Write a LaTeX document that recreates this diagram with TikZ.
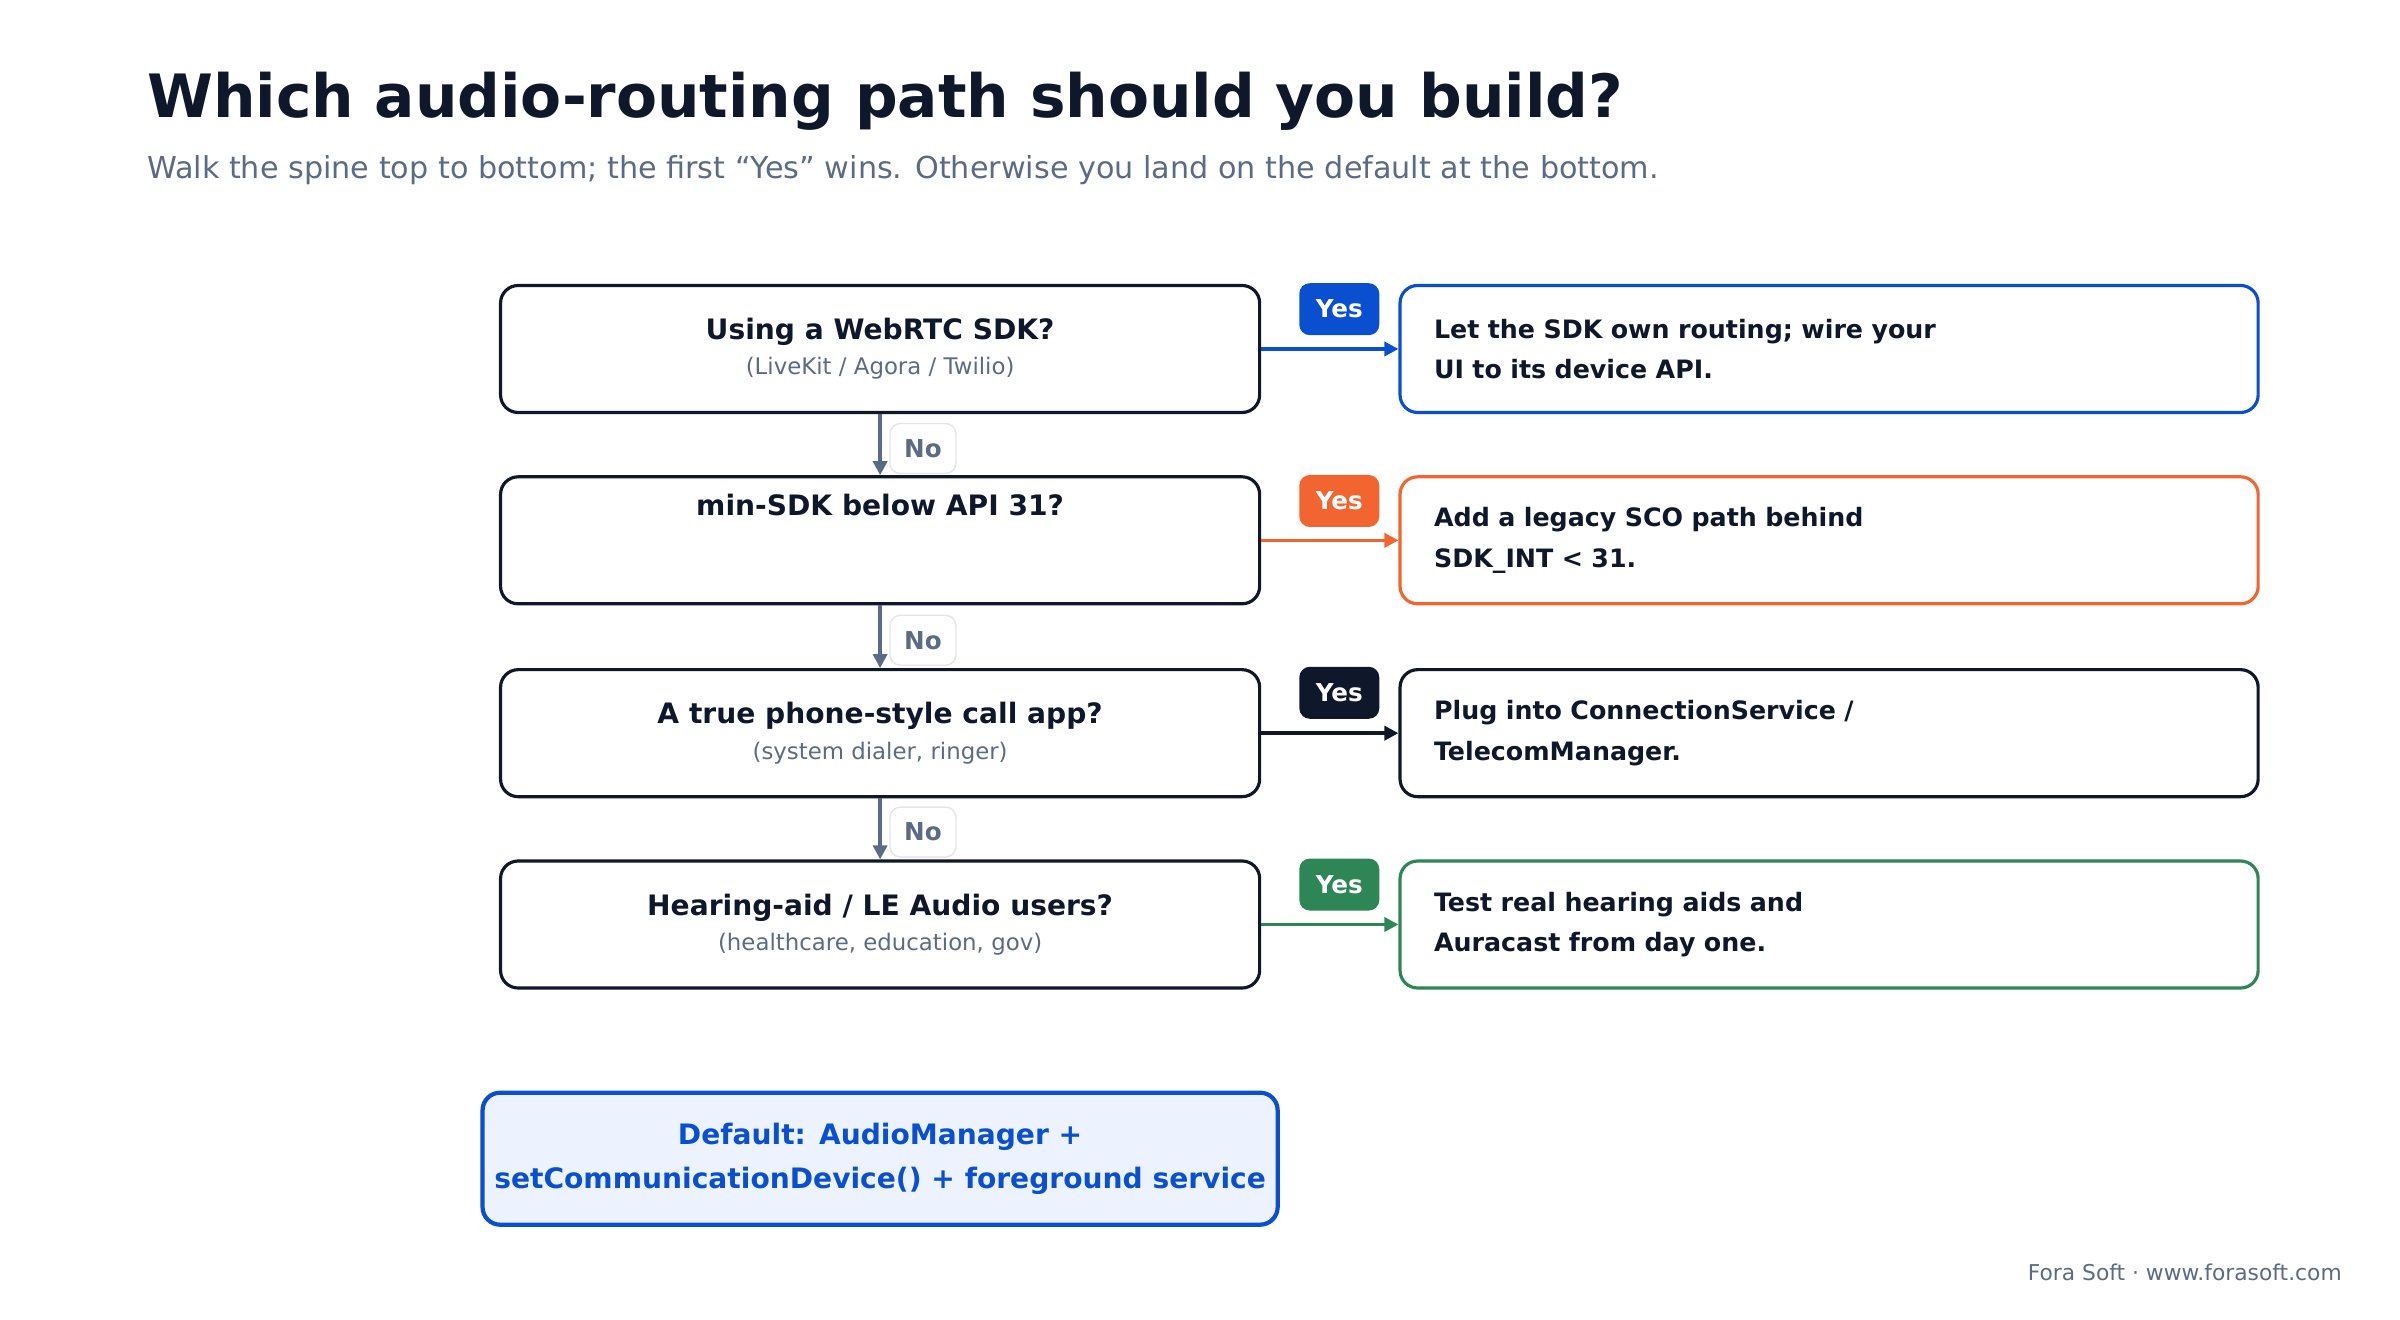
\documentclass[tikz,border=0pt]{standalone}
\usepackage{fontspec}
\setmainfont{DejaVu Sans}
\usetikzlibrary{arrows.meta}
\definecolor{ink}{HTML}{0F172A}
\definecolor{muted}{HTML}{5B6B86}
\definecolor{cblue}{HTML}{0B4FD1}
\definecolor{corange}{HTML}{F26430}
\definecolor{cgreen}{HTML}{2E8555}
\definecolor{lblue}{HTML}{EDF3FE}
\newcommand\subline[1]{{\fontsize{6.5}{8}\selectfont\mdseries\color{muted}#1}}
\begin{document}
\begin{tikzpicture}[x=0.0153cm,y=-0.0153cm,
    question/.style={draw=ink,line width=0.9pt,rounded corners=5pt,minimum width=7.59cm,
      minimum height=1.27cm,align=center,font=\fontsize{8}{11}\selectfont\bfseries,text=ink},
    answer/.style={draw=#1,line width=0.9pt,rounded corners=5pt,fill=white,minimum width=8.58cm,
      minimum height=1.27cm,text width=7.9cm,align=left,
      font=\fontsize{7.2}{11.5}\selectfont\bfseries,text=ink},
    yes/.style={fill=#1,rounded corners=3pt,minimum width=0.8cm,minimum height=0.52cm,
      inner sep=0pt,text=white,font=\fontsize{7}{8}\selectfont\bfseries},
    no/.style={draw=gray!20,fill=white,rounded corners=3pt,minimum width=0.66cm,
      minimum height=0.5cm,inner sep=0pt,text=muted,font=\fontsize{7}{8}\selectfont\bfseries},
    arr/.style={-{Triangle[length=4pt,width=4pt]},line width=1pt,draw=#1}]
\useasboundingbox (0,0) rectangle (1568,862);
\node[anchor=west,font=\fontsize{17}{20}\selectfont\bfseries,text=ink] (title) at (88,66) {Which audio-routing path should you build?};
\node[anchor=west,font=\fontsize{8.6}{10}\selectfont,text=muted] (subtitle) at (88,111)
  {Walk the spine top to bottom; the first “Yes” wins. Otherwise you land on the default at the bottom.};
% spine
\node[question] (q1) at (575,228) {Using a WebRTC SDK?\\[-1pt]\subline{(LiveKit / Agora / Twilio)}};
\node[question] (q2) at (575,353) {min-SDK below API 31?\\[9pt]};
\node[question] (q3) at (575,479) {A true phone-style call app?\\[-1pt]\subline{(system dialer, ringer)}};
\node[question] (q4) at (575,604) {Hearing-aid / LE Audio users?\\[-1pt]\subline{(healthcare, education, gov)}};
\node[question,draw=cblue,line width=1.2pt,fill=lblue,text=cblue,minimum height=1.32cm,
  font=\fontsize{8}{12.5}\selectfont\bfseries] (def) at (575,757)
  {Default: AudioManager +\\setCommunicationDevice() + foreground service};
% answers
\node[answer=cblue] (a1) at (1195,228) {Let the SDK own routing; wire your\\UI to its device API.};
\node[answer=corange] (a2) at (1195,353) {Add a legacy SCO path behind\\SDK\_INT < 31.};
\node[answer=ink] (a3) at (1195,479) {Plug into ConnectionService /\\TelecomManager.};
\node[answer=cgreen] (a4) at (1195,604) {Test real hearing aids and\\Auracast from day one.};
\foreach \i/\c in {1/cblue,2/corange,3/ink,4/cgreen}{
  \draw[arr=\c] (q\i.east) -- (a\i.west);
  \node[yes=\c] (y\i) at (875,202+125.3*\i-125.3) {Yes};
}
\foreach \i [evaluate=\i as \j using {int(\i+1)}] in {1,2,3}{
  \draw[arr=muted] (q\i.south) -- (q\j.north);
  \node[no] (n\i) at (603,293+125.3*\i-125.3) {No};
}
\node[anchor=east,font=\fontsize{6.2}{8}\selectfont,text=muted] (credit) at (1538,831) {Fora Soft · www.forasoft.com};
\end{tikzpicture}
\end{document}
